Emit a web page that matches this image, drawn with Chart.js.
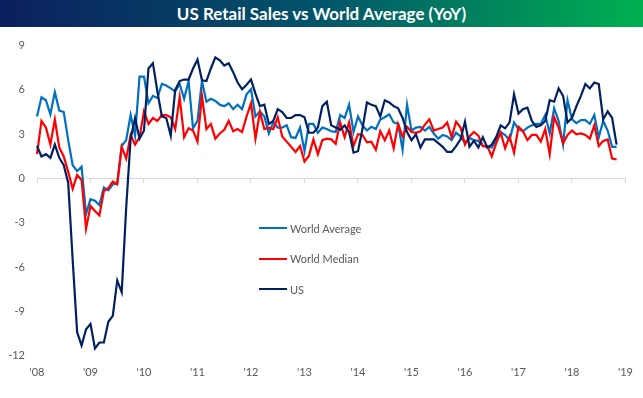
<!DOCTYPE html>
<html>
<head>
<meta charset="utf-8">
<script src="https://cdn.jsdelivr.net/npm/chart.js@4.4.0/dist/chart.umd.min.js"></script>
<style>
  html, body { margin: 0; padding: 0; background: #fff; }
  #wrap { position: relative; width: 643px; height: 398px; overflow: hidden; }
  #title {
    position: absolute; left: 0; top: 0; width: 643px; height: 27px;
    background: linear-gradient(to right, #0b1f5e 0%, #02556a 50%, #00b050 100%);
    color: #fff; font: bold 17px Lato, sans-serif; text-align: center; line-height: 28px;
  }
  #box { position: absolute; left: 0; top: 27px; width: 643px; height: 371px; }
  #legend { position: absolute; left: 259px; top: 213px; font: 11px Lato, sans-serif; color: #595959; }
  .item { display: flex; align-items: center; height: 30.5px; }
  .swatch { width: 28px; height: 2px; margin-right: 3px; }
</style>
</head>
<body>
<div id="wrap">
  <div id="title">US Retail Sales vs World Average (YoY)</div>
  <div id="box"><canvas id="retailChart"></canvas></div>
  <div id="legend"></div>
</div>
<script>
// tick labels for the year boundaries
const yearTicks = ['08', '09', '10', '11', '12', '13', '14', '15', '16', '17', '18', '19'];
const monthNames = ['Jan', 'Feb', 'Mar', 'Apr', 'May', 'Jun', 'Jul', 'Aug', 'Sep', 'Oct', 'Nov', 'Dec'];

// monthly YoY %, Jan 2008 - Nov 2018
const worldAverage = [
  4.2, 5.5, 5.3, 4.35, 5.85, 4.6, 4.5, 2.6, 0.9, 0.5, 0.8, -2.4,
  -1.4, -1.5, -1.8, -0.6, -0.8, -0.4, -0.3, 2.2, 2.6, 4.3, 2.9, 6.9,
  6.9, 5.1, 5.6, 5.45, 6.4, 6.3, 6.1, 5.9, 6.4, 5.4, 6.6, 3.4,
  3.9, 6.6, 5.2, 5.4, 5.25, 5.0, 4.9, 5.1, 4.7, 5.0, 4.7, 5.7,
  6.05, 4.2, 4.55, 4.2, 3.05, 3.8, 3.45, 3.45, 3.6, 2.8, 2.75, 3.45,
  1.85, 3.7, 3.7, 3.1, 3.45, 3.35, 3.2, 3.15, 4.3, 4.1, 5.0, 3.15,
  4.2, 3.6, 3.25, 3.5, 3.35, 4.0, 4.15, 4.35, 3.8, 3.7, 1.95, 5.0,
  3.25, 3.45, 3.5, 3.25, 3.5, 3.05, 2.7, 2.95, 2.85, 2.6, 3.1, 2.85,
  2.4, 2.75, 2.6, 2.55, 2.2, 2.15, 2.1, 2.6, 3.15, 2.95, 2.6, 3.8,
  3.35, 3.2, 3.45, 3.6, 3.7, 3.7, 4.3, 3.05, 4.75, 3.9, 2.3, 5.3,
  4.0, 3.75, 3.95, 3.95, 3.7, 4.3, 2.8, 3.9, 3.25, 2.15, 2.15
];
const worldMedian = [
  1.65, 3.9, 3.45, 2.3, 4.0, 2.1, 1.5, 0.45, -0.7, 0.25, -0.1, -3.4,
  -1.85, -2.2, -2.5, -0.85, -0.65, -0.2, -0.4, 2.15, 1.35, 2.95, 2.3, 2.8,
  4.55, 3.7, 4.1, 3.9, 4.3, 4.3, 4.15, 3.35, 5.5, 2.8, 3.4, 3.25,
  2.5, 5.6, 3.35, 3.7, 2.7, 3.05, 3.3, 3.9, 3.2, 3.35, 3.15, 4.2,
  5.1, 2.7, 4.5, 3.35, 3.45, 3.35, 4.15, 2.85, 2.5, 2.15, 1.8, 2.2,
  1.15, 1.55, 2.65, 1.65, 2.6, 2.7, 2.65, 2.35, 3.8, 2.8, 3.8, 2.2,
  3.0, 2.95, 2.45, 2.5, 1.95, 3.2, 2.6, 3.25, 2.05, 3.7, 2.85, 3.5,
  3.15, 3.1, 3.2, 3.65, 4.0, 3.25, 3.35, 3.45, 3.8, 2.8, 3.85, 3.45,
  2.3, 2.85, 3.15, 2.9, 2.2, 2.2, 1.5, 2.4, 3.1, 2.05, 2.85, 1.75,
  3.5, 3.2, 2.6, 2.95, 2.95, 2.5, 3.35, 1.65, 4.15, 3.45, 2.4, 2.95,
  3.25, 3.0, 3.05, 2.95, 2.7, 3.6, 2.2, 2.55, 2.65, 1.35, 1.3
];
const usSales = [
  2.2, 1.5, 1.65, 1.4, 2.3, 1.4, 0.9, -0.3, -5.5, -10.4, -11.3, -10.2,
  -9.85, -11.5, -11.1, -11.1, -9.7, -9.3, -6.9, -7.7, -2.0, 2.7, 4.1, 2.7,
  3.25, 7.45, 7.8, 5.9, 4.2, 4.1, 2.9, 6.0, 6.6, 6.7, 6.7, 7.45,
  8.05, 6.65, 6.6, 7.45, 8.2, 8.0, 7.65, 7.8, 7.2, 6.5, 6.05, 6.35,
  6.7, 5.75, 4.9, 5.0, 3.7, 3.9, 4.7, 4.5, 4.1, 4.1, 4.3, 4.3,
  4.15, 3.1, 3.1, 3.45, 4.9, 5.2, 3.6, 3.45, 3.3, 3.6, 3.15, 1.75,
  1.85, 3.35, 5.15, 5.0, 4.9, 4.2, 5.3, 5.15, 4.9, 4.75, 4.1, 3.15,
  2.6, 3.0, 2.1, 2.65, 2.65, 2.65, 2.4, 2.15, 1.8, 1.8, 2.2, 2.65,
  3.85, 2.15, 2.55, 2.1, 2.8, 2.1, 2.3, 2.8, 3.6, 3.4, 3.8, 5.7,
  4.4, 4.7, 4.8, 3.9, 3.5, 3.6, 3.9, 5.3, 5.2, 6.1, 5.6, 3.8,
  4.1, 4.9, 5.6, 6.4, 6.1, 6.5, 6.4, 4.0, 4.55, 4.1, 2.3
];

// category labels: one per month, Jan 2008 .. Jan 2019
const months = [];
yearTicks.forEach((yy, k) => {
  monthNames.forEach(m => {
    if (k < yearTicks.length - 1 || m === 'Jan') months.push(m + ' ' + yy);
  });
});

const tickFont = { family: 'Lato', size: 11 };
const grey = '#595959';

const chart = new Chart(document.getElementById('retailChart'), {
  type: 'line',
  data: {
    labels: months,
    datasets: [
      { label: 'World Average', data: worldAverage, borderColor: '#0070c0', order: 2 },
      { label: 'World Median', data: worldMedian, borderColor: '#ff0000', order: 1 },
      { label: 'US', data: usSales, borderColor: '#002060', order: 0 }
    ]
  },
  options: {
    responsive: true,
    maintainAspectRatio: false,
    animation: false,
    layout: { padding: { top: 14, right: 16, bottom: 9, left: 0 } },
    elements: {
      line: { borderWidth: 2.2, tension: 0, fill: false },
      point: { radius: 0, hoverRadius: 0 }
    },
    plugins: {
      legend: { display: false },
      tooltip: { enabled: false }
    },
    scales: {
      x: {
        type: 'category',
        grid: { display: false, drawTicks: false },
        border: { display: false },
        ticks: {
          autoSkip: false, maxRotation: 0, minRotation: 0, padding: 10,
          color: grey, font: tickFont,
          callback: (v, i) => (i % 12 === 0 ? "'" + yearTicks[i / 12] : '')
        }
      },
      // axis line drawn through zero with year tick marks
      x2: {
        type: 'category',
        labels: months,
        position: { y: 0 },
        grid: {
          drawOnChartArea: false, drawTicks: true, tickLength: 4,
          tickColor: c => (c.index % 12 === 0 ? '#d9d9d9' : 'rgba(0,0,0,0)')
        },
        border: { display: true, color: '#d9d9d9', width: 1 },
        ticks: { display: false, autoSkip: false }
      },
      y: {
        min: -12, max: 9,
        grid: { display: false, drawTicks: false },
        border: { display: false },
        ticks: { stepSize: 3, padding: 12, color: grey, font: tickFont },
        afterFit: s => { s.width = 37; }
      }
    }
  }
});

// legend in the middle of the plot, in dataset order
const legendBox = document.getElementById('legend');
chart.data.datasets.forEach(ds => {
  const row = document.createElement('div');
  row.className = 'item';
  const sw = document.createElement('span');
  sw.className = 'swatch';
  sw.style.background = ds.borderColor;
  const txt = document.createElement('span');
  txt.textContent = ds.label;
  row.appendChild(sw);
  row.appendChild(txt);
  legendBox.appendChild(row);
});
</script>
</body>
</html>
